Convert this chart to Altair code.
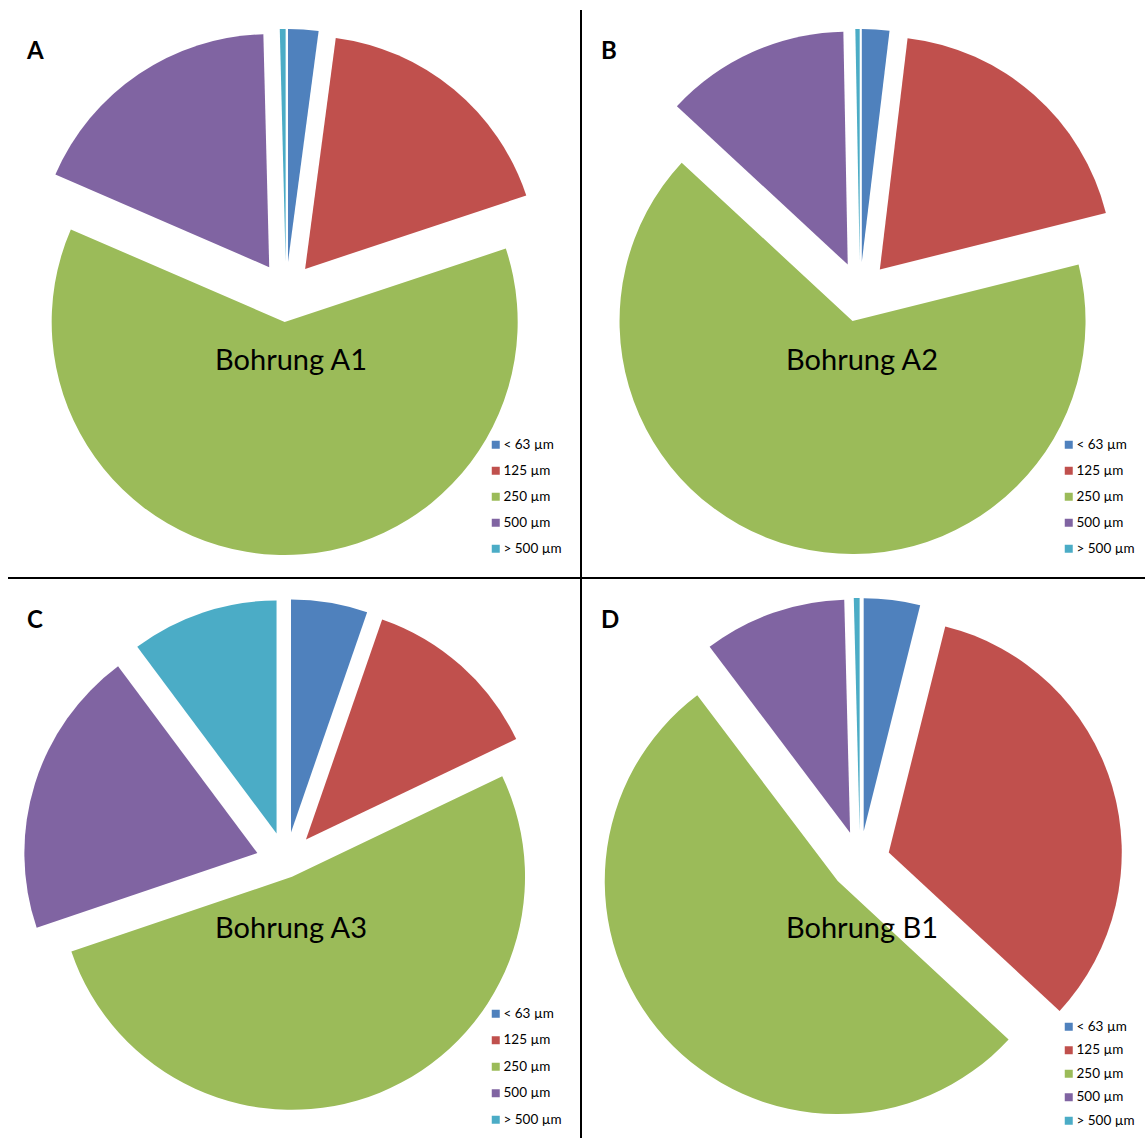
import altair as alt
import pandas as pd

# Grain-size classes and their colours
classes = ["< 63 µm", "125 µm", "250 µm", "500 µm", "> 500 µm"]
colors = ["#4F81BD", "#C0504D", "#9BBB59", "#8064A2", "#4BACC6"]

# Share of each class per borehole (percent)
share_A1 = [2.1, 17.8, 61.6, 18.1, 0.4]
share_A2 = [1.9, 19.2, 65.8, 12.8, 0.3]
share_A3 = [5.3, 12.6, 51.9, 20.0, 10.2]
share_B1 = [3.9, 33.0, 52.8, 9.9, 0.4]

letters = ["A", "B", "C", "D"]
titles = ["Bohrung A1", "Bohrung A2", "Bohrung A3", "Bohrung B1"]
shares = [share_A1, share_A2, share_A3, share_B1]

# ---- layout -------------------------------------------------------------
W, H = 1145, 1138
RADIUS = 233
EXPLODE = 30
centers = [(286, 292), (860, 292), (286, 862), (860, 861)]
# slices pulled out by a different distance
explode_override = {("Bohrung A3", "250 µm"): 16}
legend_pos = [(489, 438, 11), (1062, 438, 11), (489, 1007, 11.5), (1062, 1020, 8.5)]
letter_pos = [(27, 59), (601, 59), (27, 628), (601, 628)]
title_pos = [(291, 361), (862, 361), (291, 929), (862, 929)]

xs = alt.Scale(domain=[0, W], range=[0, W], nice=False, zero=False)
ys = alt.Scale(domain=[0, H], range=[0, H], nice=False, zero=False)
ts = alt.Scale(domain=[0, 1], range=[0, 6.283185307179586])

layers = []
for i, title in enumerate(titles):
    cx, cy = centers[i]
    df = pd.DataFrame({
        "cls": classes,
        "order": list(range(len(classes))),
        "pct": shares[i],
        "cx": cx,
        "cy": cy,
        "explode": [explode_override.get((title, c), EXPLODE) for c in classes],
    })
    lx, ly, rp = legend_pos[i]
    pie = (
        alt.Chart(df)
        .transform_joinaggregate(total="sum(pct)")
        .transform_window(cum="sum(pct)", sort=[alt.SortField("order")], frame=[None, 0])
        .transform_calculate(
            f0="(datum.cum - datum.pct) / datum.total",
            f1="datum.cum / datum.total",
            fm="(datum.cum - datum.pct / 2) / datum.total",
        )
        .transform_calculate(
            px="datum.cx + datum.explode * sin(2 * PI * datum.fm)",
            py="datum.cy - datum.explode * cos(2 * PI * datum.fm)",
        )
        .mark_arc(radius=RADIUS)
        .encode(
            x=alt.X("px:Q", scale=xs, axis=None),
            y=alt.Y("py:Q", scale=ys, axis=None),
            theta=alt.Theta("f0:Q", scale=ts, stack=False),
            theta2="f1:Q",
            color=alt.Color(
                "cls:N",
                scale=alt.Scale(domain=classes, range=colors),
                legend=alt.Legend(
                    orient="none",
                    legendX=lx,
                    legendY=ly,
                    title=None,
                    padding=0,
                    symbolType="square",
                    symbolSize=64,
                    symbolStrokeWidth=0,
                    labelFont="Lato",
                    labelFontSize=13.5,
                    labelColor="#000000",
                    labelOffset=1,
                    rowPadding=rp,
                ),
            ),
        )
    )
    layers.append(pie)

labels_df = pd.DataFrame({
    "title": titles,
    "letter": letters,
    "tx": [p[0] for p in title_pos],
    "ty": [p[1] for p in title_pos],
    "lx": [p[0] for p in letter_pos],
    "ly": [p[1] for p in letter_pos],
})

title_text = alt.Chart(labels_df).mark_text(
    font="Lato", fontSize=29, color="#000000", align="center", baseline="middle"
).encode(
    x=alt.X("tx:Q", scale=xs, axis=None),
    y=alt.Y("ty:Q", scale=ys, axis=None),
    text="title:N",
)

letter_text = alt.Chart(labels_df).mark_text(
    font="Lato", fontSize=24, fontWeight="bold", color="#000000", align="left", baseline="alphabetic"
).encode(
    x=alt.X("lx:Q", scale=xs, axis=None),
    y=alt.Y("ly:Q", scale=ys, axis=None),
    text="letter:N",
)

# cross-shaped dividers between the four panels
v_rule = alt.Chart(labels_df).mark_rule(color="#000000", strokeWidth=2).encode(
    x=alt.value(581), y=alt.value(10), y2=alt.value(H)
)
h_rule = alt.Chart(labels_df).mark_rule(color="#000000", strokeWidth=2).encode(
    x=alt.value(8), x2=alt.value(W), y=alt.value(578)
)

chart = (
    alt.layer(*layers, title_text, letter_text, v_rule, h_rule)
    .resolve_scale(color="independent")
    .resolve_legend(color="independent")
    .properties(width=W, height=H, padding=0, autosize=alt.AutoSizeParams(type="none"))
    .configure_view(stroke=None)
)

chart.save("out.html", embed_options={"renderer": "svg", "actions": False})
